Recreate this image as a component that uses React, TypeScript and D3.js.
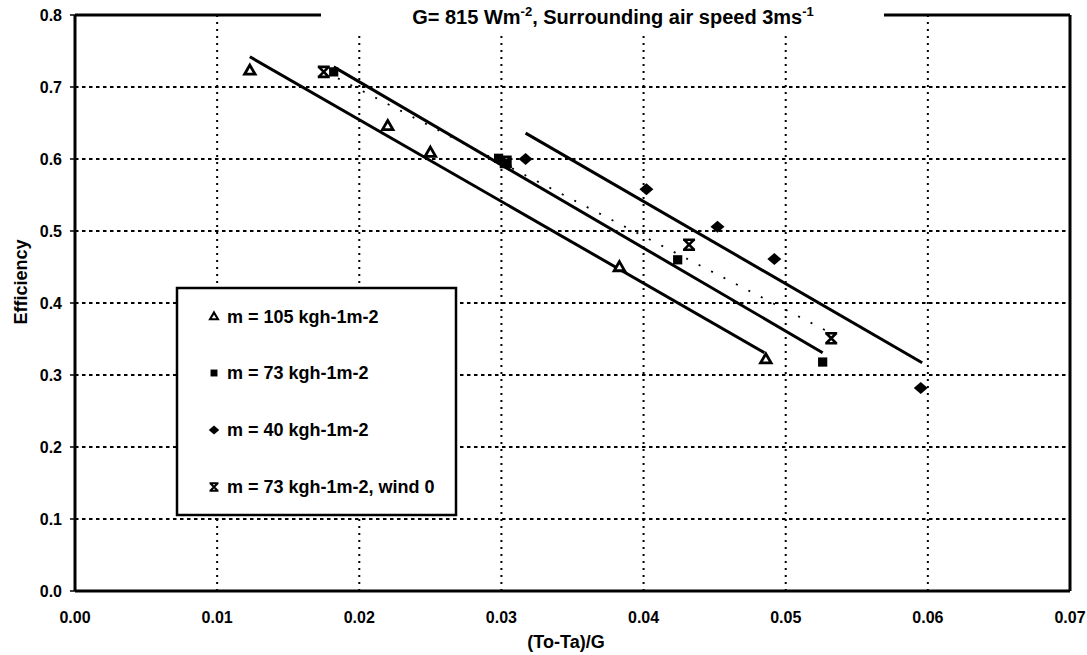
import React from "react";
import * as d3 from "d3";

const W = 1087;
const H = 655;

const xTicks = [0, 0.01, 0.02, 0.03, 0.04, 0.05, 0.06, 0.07];
const yTicks = [0, 0.1, 0.2, 0.3, 0.4, 0.5, 0.6, 0.7, 0.8];

// m = 105 (triangles)
const tri_x = [0.0123, 0.022, 0.025, 0.0383, 0.0486];
const tri_y = [0.722, 0.645, 0.608, 0.449, 0.321];
// m = 73 (squares)
const sq_x = [0.0182, 0.0298, 0.0304, 0.0424, 0.0526];
const sq_y = [0.721, 0.601, 0.594, 0.46, 0.318];
// m = 40 (diamonds)
const dia_x = [0.0317, 0.0402, 0.0452, 0.0492, 0.0595];
const dia_y = [0.6, 0.558, 0.506, 0.461, 0.282];
// m = 73, wind 0 (x)
const xw_x = [0.0175, 0.0303, 0.0432, 0.0532];
const xw_y = [0.721, 0.596, 0.481, 0.351];

// trend lines
const line105_x = [0.0123, 0.0485];
const line105_y = [0.742, 0.331];
const line73_x = [0.0182, 0.0526];
const line73_y = [0.728, 0.331];
const line40_x = [0.0317, 0.0596];
const line40_y = [0.636, 0.317];
const lineW0_x = [0.0185, 0.053];
const lineW0_y = [0.712, 0.36];

const legendLabels = [
  "m = 105 kgh-1m-2",
  "m = 73 kgh-1m-2",
  "m = 40 kgh-1m-2",
  "m = 73 kgh-1m-2, wind 0",
];

const FONT = "'Liberation Sans', Arial, Helvetica, sans-serif";

function Marker({ kind, x, y, s = 1 }: { kind: string; x: number; y: number; s?: number }) {
  const tr = `translate(${x},${y}) scale(${s})`;
  if (kind === "tri") {
    const p = d3.symbol().type(d3.symbolTriangle).size(48)();
    return <path d={p || ""} transform={tr} fill="#fff" stroke="#000" strokeWidth={2.8} />;
  }
  if (kind === "sq") {
    const p = d3.symbol().type(d3.symbolSquare).size(85)();
    return <path d={p || ""} transform={tr} fill="#000" />;
  }
  if (kind === "dia") {
    return <path d="M-7,0 L0,-6 L7,0 L0,6 Z" transform={tr} fill="#000" />;
  }
  return (
    <path
      d="M-6,-5 L6,-5 M-6,5 L6,5 M-5,-5 L5,5 M5,-5 L-5,5"
      transform={tr}
      stroke="#000"
      strokeWidth={2.6}
      fill="none"
    />
  );
}

export default function App() {
  const x = d3.scaleLinear().domain([0, 0.07]).range([75, 1070]);
  const y = d3.scaleLinear().domain([0, 0.8]).range([591, 15]);
  const line = d3
    .line<[number, number]>()
    .x((d) => x(d[0]))
    .y((d) => y(d[1]));
  const zip = (a: number[], b: number[]) => a.map((v, i) => [v, b[i]] as [number, number]);

  const series = [
    { kind: "tri", xs: tri_x, ys: tri_y },
    { kind: "sq", xs: sq_x, ys: sq_y },
    { kind: "dia", xs: dia_x, ys: dia_y },
    { kind: "xw", xs: xw_x, ys: xw_y },
  ];

  const legX = 177, legY = 288, legW = 279, legH = 227;
  const legRows = [317, 373, 430, 487];
  const legKinds = ["tri", "sq", "dia", "xw"];

  const titleBox = { x0: 321, x1: 884, y1: 31 };

  return (
    <div style={{ position: "absolute", left: 0, top: 0, background: "#fff" }}>
      <svg width={W} height={H} style={{ display: "block", fontFamily: FONT }}>
        <rect x={0} y={0} width={W} height={H} fill="#fff" />
        {/* horizontal gridlines */}
        {yTicks.filter((t) => t > 0 && t < 0.8).map((t) => (
          <line key={"gy" + t} x1={x(0)} x2={x(0.07)} y1={y(t)} y2={y(t)} stroke="#000" strokeWidth={2} strokeDasharray="3.5 3.5" />
        ))}
        {/* vertical gridlines */}
        {xTicks.filter((t) => t > 0 && t < 0.07).map((t) => (
          <line key={"gx" + t} x1={x(t)} x2={x(t)} y1={y(0)} y2={y(0.8)} stroke="#000" strokeWidth={2} strokeDasharray="2 5" />
        ))}
        {/* title background */}
        <rect x={titleBox.x0} y={0} width={titleBox.x1 - titleBox.x0} height={titleBox.y1} fill="#fff" />
        {/* frame */}
        <line x1={x(0)} x2={x(0)} y1={y(0)} y2={y(0.8)} stroke="#000" strokeWidth={3} />
        <line x1={x(0.07)} x2={x(0.07)} y1={y(0)} y2={y(0.8)} stroke="#000" strokeWidth={3} />
        <line x1={x(0)} x2={x(0.07)} y1={y(0)} y2={y(0)} stroke="#000" strokeWidth={3} />
        <line x1={x(0)} x2={titleBox.x0} y1={y(0.8)} y2={y(0.8)} stroke="#000" strokeWidth={3} />
        <line x1={titleBox.x1} x2={x(0.07)} y1={y(0.8)} y2={y(0.8)} stroke="#000" strokeWidth={3} />
        {/* ticks */}
        {yTicks.map((t) => (
          <line key={"ty" + t} x1={x(0) - 5} x2={x(0)} y1={y(t)} y2={y(t)} stroke="#000" strokeWidth={1.5} />
        ))}
        {/* tick labels */}
        {yTicks.map((t) => (
          <text key={"ly" + t} x={x(0) - 13} y={y(t)} dy="0.35em" textAnchor="end" fontSize={16} fontWeight="bold">
            {d3.format(".1f")(t)}
          </text>
        ))}
        {xTicks.map((t) => (
          <text key={"lx" + t} x={x(t)} y={y(0) + 32} textAnchor="middle" fontSize={16} fontWeight="bold">
            {d3.format(".2f")(t)}
          </text>
        ))}
        {/* axis titles */}
        <text transform={`translate(27,282) rotate(-90)`} textAnchor="middle" fontSize={18} fontWeight="bold">
          Efficiency
        </text>
        <text x={566} y={648} textAnchor="middle" fontSize={18} fontWeight="bold">
          (To-Ta)/G
        </text>
        {/* title */}
        <text x={613} y={24} textAnchor="middle" fontSize={20} fontWeight="bold">
          G= 815 Wm
          <tspan dy={-8} fontSize={13}>-2</tspan>
          <tspan dy={8}>, Surrounding air speed 3ms</tspan>
          <tspan dy={-8} fontSize={13}>-1</tspan>
        </text>
        {/* trend lines */}
        <path d={line(zip(line105_x, line105_y)) || ""} stroke="#000" strokeWidth={3} fill="none" />
        <path d={line(zip(line73_x, line73_y)) || ""} stroke="#000" strokeWidth={3} fill="none" />
        <path d={line(zip(line40_x, line40_y)) || ""} stroke="#000" strokeWidth={3} fill="none" />
        <path d={line(zip(lineW0_x, lineW0_y)) || ""} stroke="#000" strokeWidth={1.8} fill="none" strokeDasharray="2 12" />
        {/* markers */}
        {series.map((s) =>
          s.xs.map((v, i) => <Marker key={s.kind + i} kind={s.kind} x={x(v)} y={y(s.ys[i])} />)
        )}
        {/* legend */}
        <rect x={legX} y={legY} width={legW} height={legH} fill="#fff" stroke="#000" strokeWidth={2.5} />
        {legendLabels.map((lab, i) => (
          <g key={"leg" + i}>
            <Marker kind={legKinds[i]} x={214} y={legRows[i]} s={0.75} />
            <text x={227} y={legRows[i]} dy="0.36em" fontSize={18} fontWeight="bold">
              {lab}
            </text>
          </g>
        ))}
      </svg>
    </div>
  );
}
